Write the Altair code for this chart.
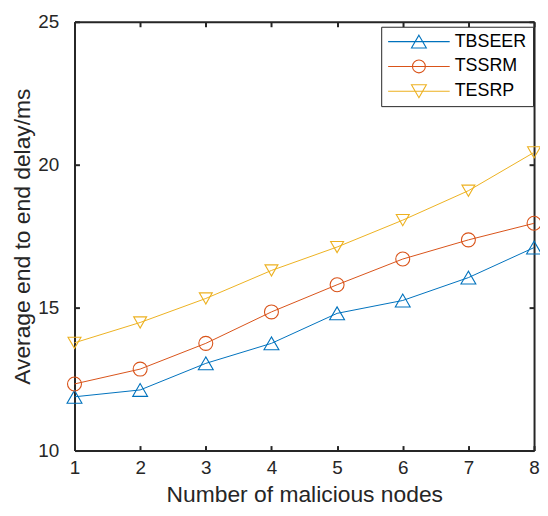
import altair as alt
import pandas as pd

nodes = [1, 2, 3, 4, 5, 6, 7, 8]
series_names = ["TBSEER", "TSSRM", "TESRP"]
tbseer = [11.88, 12.12, 13.05, 13.75, 14.80, 15.25, 16.05, 17.10]
tssrm = [12.33, 12.85, 13.75, 14.85, 15.80, 16.70, 17.37, 17.95]
tesrp = [13.77, 14.48, 15.32, 16.30, 17.12, 18.06, 19.09, 20.43]
colors = ["#0072BD", "#D95319", "#EDB120"]
y_ticks = [10, 15, 20, 25]

rows = []
for name, vals in zip(series_names, [tbseer, tssrm, tesrp]):
    for n, v in zip(nodes, vals):
        rows.append({"nodes": n, "delay": v, "series": name})
df = pd.DataFrame(rows)

FONT = "Liberation Sans"
AX = "#262626"

xscale = alt.Scale(domain=[1, 8], nice=False, zero=False)
yscale = alt.Scale(domain=[10, 25], nice=False, zero=False)


def cscale():
    return alt.Scale(domain=series_names, range=colors)


base_axis = dict(grid=False, labelFont=FONT, labelColor=AX, titleFont=FONT, labelFlush=False,
                 titleColor=AX, titleFontWeight="normal", titleFontSize=23)
frame_axis = dict(domain=True, domainColor=AX, domainWidth=2, ticks=False, **base_axis)
tick_axis = dict(domain=False, ticks=True, tickColor=AX, tickWidth=2, tickSize=5,
                 offset=-5, labels=False, **base_axis)

# lines, with the bottom/left frame, tick labels and titles
lines = alt.Chart(df).mark_line(strokeWidth=1).encode(
    x=alt.X("nodes:Q", scale=xscale, title="Number of malicious nodes",
            axis=alt.Axis(orient="bottom", values=nodes, format="d", labelFontSize=19,
                          labelPadding=8, titlePadding=6, **frame_axis)),
    y=alt.Y("delay:Q", scale=yscale, title="Average end to end delay/ms",
            axis=alt.Axis(orient="left", values=y_ticks, format="d", labelFontSize=19,
                          labelPadding=16, titlePadding=3, **frame_axis)),
    color=alt.Color("series:N", scale=cscale(), legend=None),
    detail="series:N",
)

# hollow markers, with the top/right frame
points = alt.Chart(df).mark_point(filled=False, strokeWidth=1.1, opacity=1).encode(
    x=alt.X("nodes:Q", scale=xscale, title="",
            axis=alt.Axis(orient="top", values=nodes, labels=False, **frame_axis)),
    y=alt.Y("delay:Q", scale=yscale, title="",
            axis=alt.Axis(orient="right", values=y_ticks, labels=False, **frame_axis)),
    color=alt.Color("series:N", scale=cscale(), legend=None),
    shape=alt.Shape("series:N", scale=alt.Scale(domain=series_names,
                    range=["triangle-up", "circle", "triangle-down"]), legend=None),
    size=alt.Size("series:N", scale=alt.Scale(domain=series_names, range=[225, 170, 225]),
                  legend=None),
)

# inward ticks on all four sides (these layers draw no marks)
ticks_bl = alt.Chart(df).transform_filter("datum.nodes < 0").mark_point(opacity=0).encode(
    x=alt.X("nodes:Q", scale=xscale, title="",
            axis=alt.Axis(orient="bottom", values=nodes, **tick_axis)),
    y=alt.Y("delay:Q", scale=yscale, title="",
            axis=alt.Axis(orient="left", values=y_ticks, **tick_axis)),
)
ticks_tr = alt.Chart(df).transform_filter("datum.nodes < 0").mark_point(opacity=0).encode(
    x=alt.X("nodes:Q", scale=xscale, title="",
            axis=alt.Axis(orient="top", values=nodes, **tick_axis)),
    y=alt.Y("delay:Q", scale=yscale, title="",
            axis=alt.Axis(orient="right", values=y_ticks, **tick_axis)),
)

# legend symbols: line with marker
line_up = "M-5.17,0L5.17,0M0,-1.08L1.25,1.08L-1.25,1.08Z"
line_circle = "M-5.17,0L5.17,0M1.08,0A1.08,1.08,0,1,1,-1.08,0A1.08,1.08,0,1,1,1.08,0Z"
line_down = "M-5.17,0L5.17,0M0,1.08L1.25,-1.08L-1.25,-1.08Z"

legend_props = dict(orient="none", legendX=309, legendY=5, padding=6, symbolOffset=23,
                    labelOffset=27, rowPadding=7, labelFont=FONT, labelFontSize=18,
                    labelColor="#000000", strokeColor=AX, fillColor="white",
                    symbolStrokeWidth=1.1, symbolSize=144, title=None)

legend_layer = alt.Chart(df).transform_filter("datum.nodes < 0").mark_point(
    filled=False, strokeWidth=1.1, size=144, opacity=1).encode(
    x=alt.X("nodes:Q", scale=xscale, axis=None),
    y=alt.Y("delay:Q", scale=yscale, axis=None),
    color=alt.Color("series:N", scale=cscale(), legend=alt.Legend(**legend_props)),
    shape=alt.Shape("series:N", scale=alt.Scale(domain=series_names,
                    range=[line_up, line_circle, line_down]),
                    legend=alt.Legend(**legend_props)),
)

chart = alt.layer(lines, points, ticks_bl, ticks_tr, legend_layer).resolve_axis(
    x="independent", y="independent"
).resolve_scale(color="independent", shape="independent", size="independent").properties(
    width=463, height=432,
    autosize=alt.AutoSizeParams(type="none"),
    padding={"left": 67, "top": 12, "right": 6, "bottom": 56},
).configure_view(strokeWidth=0).configure(background="white")

chart.save("out.html", embed_options={"renderer": "svg", "actions": False})
